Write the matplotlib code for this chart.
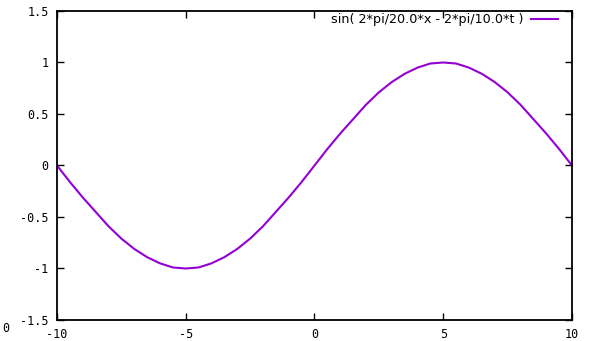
import numpy as np
import matplotlib

matplotlib.use("Agg")
import matplotlib.pyplot as plt

# curve samples (x step 0.5)
x = np.arange(-10, 10.5, 0.5)
y = [0.0, -0.16, -0.31, -0.45, -0.59, -0.71, -0.81, -0.89, -0.95, -0.99,
     -1.0, -0.99, -0.95, -0.89, -0.81, -0.71, -0.59, -0.45, -0.31, -0.16,
     0.0, 0.16, 0.31, 0.45, 0.59, 0.71, 0.81, 0.89, 0.95, 0.99,
     1.0, 0.99, 0.95, 0.89, 0.81, 0.71, 0.59, 0.45, 0.31, 0.16, 0.0]
label = "sin( 2*pi/20.0*x - 2*pi/10.0*t )"
xticks = [-10, -5, 0, 5, 10]
yticks = [-1.5, -1, -0.5, 0, 0.5, 1, 1.5]
ytick_labels = ["-1.5", "-1", "-0.5", "0", "0.5", "1", "1.5"]

fig = plt.figure(figsize=(5.95, 3.41), dpi=100)
ax = fig.add_axes([0.0958, 0.0616, 0.8655, 0.9062])

ax.plot(x, y, color="#9400d3", lw=1.5, label=label)

ax.set_xlim(-10, 10)
ax.set_ylim(-1.5, 1.5)
ax.set_xticks(xticks)
ax.set_xticklabels([str(t) for t in xticks])
ax.set_yticks(yticks)
ax.set_yticklabels(ytick_labels)
ax.tick_params(direction="in", top=True, right=True, length=5, width=1,
               labelsize=8.5, pad=6)
for lab in ax.get_xticklabels() + ax.get_yticklabels():
    lab.set_family("DejaVu Sans Mono")
for sp in ax.spines.values():
    sp.set_linewidth(1.3)

ax.legend(loc="upper right", bbox_to_anchor=(0.973, 0.992), frameon=False,
          markerfirst=False, fontsize=9.2, handlelength=2.1,
          handletextpad=0.6, borderaxespad=0, borderpad=0)

# clipped label fragment at the left edge
fig.text(0.003, 0.025, "0", fontsize=8.5, family="DejaVu Sans Mono", ha="left")

fig.savefig("out.png", dpi=100)
